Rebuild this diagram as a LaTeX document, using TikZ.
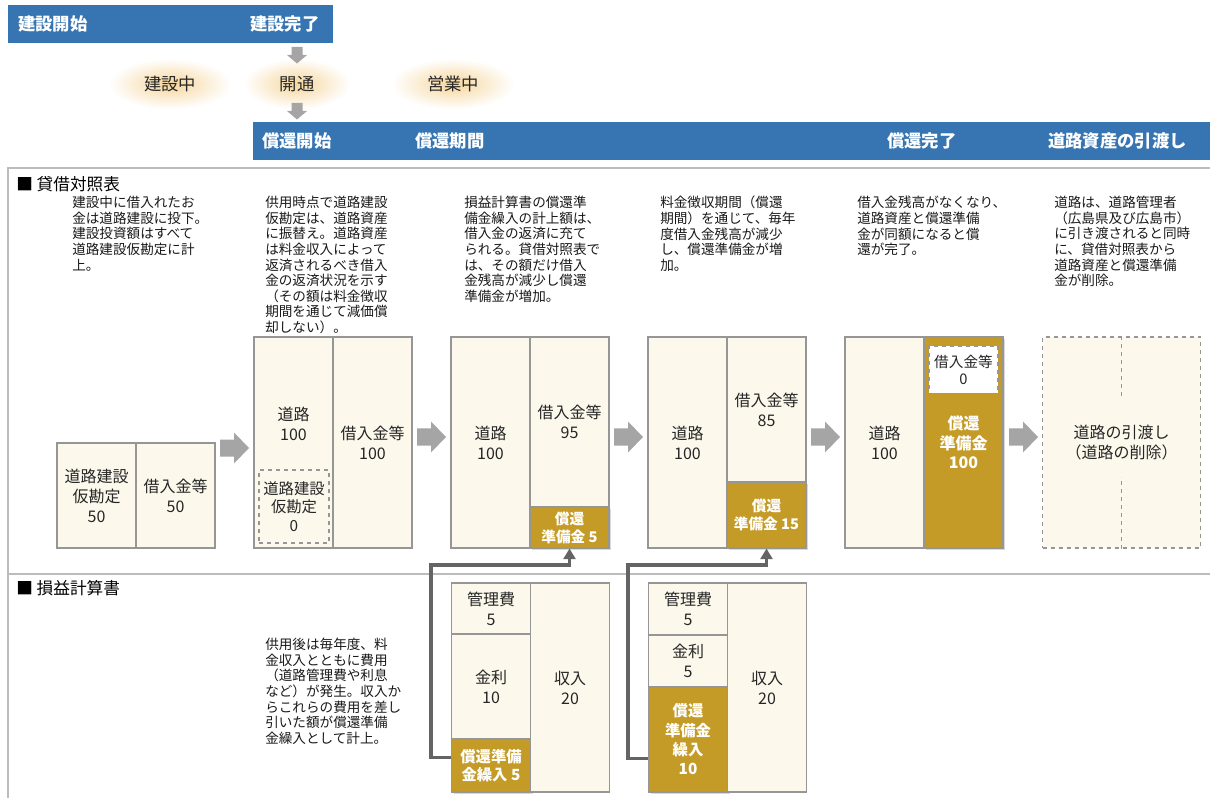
\documentclass[tikz,border=0pt]{standalone}
\usepackage{fontspec}
\setmainfont{Noto Sans CJK JP}
\usepackage{xcolor}
\usetikzlibrary{arrows.meta,shadows}

\definecolor{bandblue}{RGB}{54,117,178}
\definecolor{cream}{RGB}{252,248,236}
\definecolor{gold}{RGB}{197,155,40}
\definecolor{rule}{RGB}{150,150,150}
\definecolor{frameline}{RGB}{188,188,188}
\definecolor{flowgray}{RGB}{165,165,165}
\definecolor{feedgray}{RGB}{100,100,100}
\definecolor{glow}{RGB}{246,214,156}
\newcommand{\pxu}{0.75pt}

\begin{document}
\begin{tikzpicture}[x=0.75pt, y=-0.75pt,
    cellsize/.style 2 args={minimum width=#1*\pxu, minimum height=#2*\pxu},
    cell/.style={draw=rule, fill=cream, line width=0.8pt, inner sep=0pt, align=center,
      text=black!85, font=\fontsize{12}{15}\selectfont},
    goldcell/.style={cell, fill=gold, text=white, font=\bfseries\fontsize{11}{13.5}\selectfont,
      drop shadow={opacity=0.3, shadow xshift=1.5pt, shadow yshift=-1.5pt}},
    lbl/.style={align=center, inner sep=0pt, text=black!85, font=\fontsize{12}{15}\selectfont},
    band/.style={fill=bandblue, inner sep=0pt},
    bandtext/.style={anchor=west, inner sep=0pt, text=white, font=\bfseries\fontsize{13}{15}\selectfont},
    stage/.style={inner sep=0pt, text=black!85, font=\fontsize{13}{15}\selectfont},
    head/.style={anchor=west, inner sep=0pt, font=\fontsize{12.5}{15}\selectfont},
    desc/.style={anchor=north west, inner sep=0pt, align=left, text=black!90,
      font=\fontsize{10.2}{11.7}\selectfont},
    frame/.style={draw=frameline, line width=1.5pt},
    feed/.style={draw=feedgray, line width=2.4pt, -{Triangle[length=8pt, width=9pt]}}]
  \useasboundingbox (0,0) rectangle (1210,798);

  \shade[inner color=glow, outer color=white] (170,84) ellipse [x radius=46pt, y radius=19pt];
  \shade[inner color=glow, outer color=white] (297,84) ellipse [x radius=40pt, y radius=19pt];
  \shade[inner color=glow, outer color=white] (453,84) ellipse [x radius=46pt, y radius=19pt];
  \node[stage] (build) at (170,84) {建設中};
  \node[stage] (open) at (297,84) {開通};
  \node[stage] (run) at (453,84) {営業中};

  \node[band, cellsize={325}{38}] (band1) at (170.5,24) {};
  \node[bandtext] (t1) at (18,24) {建設開始};
  \node[bandtext] (t2) at (250,24) {建設完了};
  \fill[flowgray] (291.5,47) -- ++(11,0) -- ++(0,8) -- ++(4.5,0) -- ++(-10,8.5) -- ++(-10,-8.5) -- ++(4.5,0) -- cycle;
  \fill[flowgray] (291.5,103) -- ++(11,0) -- ++(0,8) -- ++(4.5,0) -- ++(-10,8.5) -- ++(-10,-8.5) -- ++(4.5,0) -- cycle;
  \node[band, cellsize={957}{38}] (band2) at (731.5,141) {};
  \node[bandtext] (t3) at (262,141) {償還開始};
  \node[bandtext] (t4) at (415,141) {償還期間};
  \node[bandtext] (t5) at (887,141) {償還完了};
  \node[bandtext] (t6) at (1048,141) {道路資産の引渡し};

  \draw[frame] (8,798) -- (8,168) -- (1210,168);
  \draw[frame] (8,574) -- (1210,574);
  \node[head] (bshead) at (16,184) {■ 貸借対照表};
  \node[head] (plhead) at (16,588) {■ 損益計算書};

  \node[desc] (d1) at (72,196) {建設中に借入れたお\\金は道路建設に投下。\\建設投資額はすべて\\道路建設仮勘定に計\\上。};
  \node[desc] (d2) at (265,196) {供用時点で道路建設\\仮勘定は、道路資産\\に振替え。道路資産\\は料金収入によって\\返済されるべき借入\\金の返済状況を示す\\（その額は料金徴収\\期間を通じて減価償\\却しない）。};
  \node[desc] (d3) at (464,196) {損益計算書の償還準\\備金繰入の計上額は、\\借入金の返済に充て\\られる。貸借対照表で\\は、その額だけ借入\\金残高が減少し償還\\準備金が増加。};
  \node[desc] (d4) at (660,196) {料金徴収期間（償還\\期間）を通じて、毎年\\度借入金残高が減少\\し、償還準備金が増\\加。};
  \node[desc] (d5) at (857,196) {借入金残高がなくなり、\\道路資産と償還準備\\金が同額になると償\\還が完了。};
  \node[desc] (d6) at (1054,196) {道路は、道路管理者\\（広島県及び広島市）\\に引き渡されると同時\\に、貸借対照表から\\道路資産と償還準備\\金が削除。};
  \node[desc] (d7) at (265,638) {供用後は毎年度、料\\金収入とともに費用\\（道路管理費や利息\\など）が発生。収入か\\らこれらの費用を差し\\引いた額が償還準備\\金繰入として計上。};

  \node[cell, cellsize={79}{105}] (bs1l) at (96.5,495.5) {道路建設\\仮勘定\\50};
  \node[cell, cellsize={79}{105}] (bs1r) at (175.5,495.5) {借入金等\\50};
  \fill[flowgray] (220,439.5) -- ++(14,0) -- ++(0,-7) -- ++(15,15.5) -- ++(-15,15.5) -- ++(0,-7) -- ++(-14,0) -- cycle;

  \node[cell, cellsize={79}{211}] (bs2l) at (293.5,442.5) {};
  \node[lbl] (bs2road) at (293.5,424) {道路\\100};
  \node[cell, dashed, cellsize={70}{73}, font=\fontsize{11.5}{14}\selectfont] (bs2sus) at (294,506.5) {道路建設\\仮勘定\\0};
  \node[cell, cellsize={79}{211}] (bs2r) at (372.5,442.5) {借入金等\\100};
  \fill[flowgray] (417,428.5) -- ++(14,0) -- ++(0,-7) -- ++(15,15.5) -- ++(-15,15.5) -- ++(0,-7) -- ++(-14,0) -- cycle;

  \node[cell, cellsize={79}{211}] (bs3l) at (490.5,442.5) {道路\\100};
  \node[cell, cellsize={79}{170}] (bs3r) at (569.5,422) {借入金等\\95};
  \node[goldcell, cellsize={79}{41}] (bs3g) at (569.5,527.5) {償還\\準備金 5};
  \fill[flowgray] (614,428.5) -- ++(14,0) -- ++(0,-7) -- ++(15,15.5) -- ++(-15,15.5) -- ++(0,-7) -- ++(-14,0) -- cycle;

  \node[cell, cellsize={79}{211}] (bs4l) at (687.5,442.5) {道路\\100};
  \node[cell, cellsize={79}{145}] (bs4r) at (766.5,409.5) {借入金等\\85};
  \node[goldcell, cellsize={79}{66}] (bs4g) at (766.5,515) {償還\\準備金 15};
  \fill[flowgray] (811,428.5) -- ++(14,0) -- ++(0,-7) -- ++(15,15.5) -- ++(-15,15.5) -- ++(0,-7) -- ++(-14,0) -- cycle;

  \node[cell, cellsize={79}{211}] (bs5l) at (884.5,442.5) {道路\\100};
  \node[goldcell, cellsize={79}{211}, font=\bfseries\fontsize{12}{14.5}\selectfont] (bs5g) at (963.5,442.5) {償還\\準備金\\100};
  \node[cell, dashed, fill=white, cellsize={69}{47}, font=\fontsize{11}{13}\selectfont] (bs5d) at (963.5,370) {借入金等\\0};
  \fill[flowgray] (1009,428.5) -- ++(14,0) -- ++(0,-7) -- ++(15,15.5) -- ++(-15,15.5) -- ++(0,-7) -- ++(-14,0) -- cycle;

  \node[cell, dashed, cellsize={158}{211}] (bs6) at (1121.5,442.5) {道路の引渡し\\（道路の削除）};
  \draw[rule, dashed, line width=0.8pt] (bs6.north) -- ++(0,62);
  \draw[rule, dashed, line width=0.8pt] (bs6.south) -- ++(0,-72);

  \node[cell, cellsize={79}{51}] (pl3a) at (491,608.5) {管理費\\5};
  \node[cell, cellsize={79}{105}] (pl3b) at (491,686.5) {金利\\10};
  \node[goldcell, cellsize={79}{53}, font=\bfseries\fontsize{11.5}{14}\selectfont] (pl3g) at (491,765.5) {償還準備\\金繰入 5};
  \node[cell, cellsize={79}{209}] (pl3r) at (570,687.5) {収入\\20};

  \node[cell, cellsize={79}{52}] (pl4a) at (688,609) {管理費\\5};
  \node[cell, cellsize={79}{52}] (pl4b) at (688,661) {金利\\5};
  \node[goldcell, cellsize={79}{105}, font=\bfseries\fontsize{11.5}{14.5}\selectfont] (pl4g) at (688,739.5) {償還\\準備金\\繰入\\10};
  \node[cell, cellsize={79}{209}] (pl4r) at (767,687.5) {収入\\20};

  \coordinate (k3) at (569.5,565);
  \coordinate (k4) at (766.5,565);
  \draw[feed] ([yshift=6pt]pl3g.west) -- ++(-20,0) |- (k3) -- (bs3g.south);
  \draw[feed] ([yshift=-14pt]pl4g.west) -- ++(-20,0) |- (k4) -- (bs4g.south);
\end{tikzpicture}
\end{document}
